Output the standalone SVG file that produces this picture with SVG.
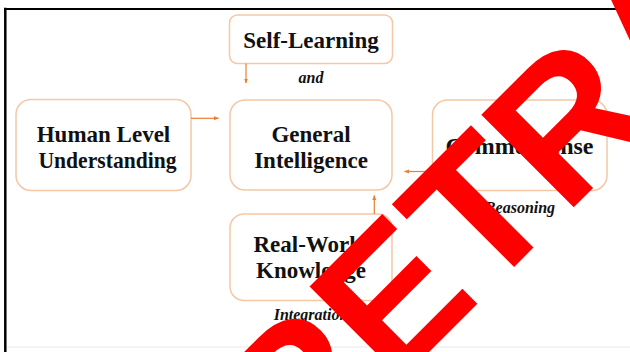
<svg xmlns="http://www.w3.org/2000/svg" width="630" height="352" viewBox="0 0 630 352">
  <defs>
    <style>
      .box { fill: #ffffff; stroke: #F5C7A5; stroke-width: 1.5; }
      .lbl { font-family: "Liberation Serif", "Times New Roman", serif; font-weight: bold; font-size: 23px; fill: #111111; text-anchor: middle; }
      .ital { font-family: "Liberation Serif", "Times New Roman", serif; font-weight: bold; font-style: italic; font-size: 16px; fill: #111111; text-anchor: middle; }
      .conn { stroke: #ED7D31; stroke-width: 1.2; fill: none; marker-end: url(#arrow); }
      .stamp { font-family: "Liberation Sans", Arial, sans-serif; font-weight: bold; font-size: 190px; fill: #FF0000; }
    </style>
    <marker id="arrow" viewBox="0 0 10 10" refX="9" refY="5" markerWidth="5" markerHeight="5" orient="auto" markerUnits="userSpaceOnUse">
      <path d="M0,1 L10,5 L0,9 Z" fill="#ED7D31"/>
    </marker>
  </defs>

  <rect x="0" y="0" width="630" height="352" fill="#ffffff"/>
  <!-- frame -->
  <line x1="5.3" y1="7.8" x2="5.3" y2="352" stroke="#000000" stroke-width="2.5"/>
  <line x1="4" y1="9" x2="630" y2="9" stroke="#000000" stroke-width="2.2"/>
  <line x1="7" y1="347" x2="630" y2="347" stroke="#E8E8E8" stroke-width="1"/>

  <g id="self-learning">
    <rect class="box" x="229.5" y="15" width="163" height="48.5" rx="8"/>
    <text class="lbl" x="311" y="47.5">Self-Learning</text>
  </g>

  <g id="human-level">
    <rect class="box" x="16" y="99.5" width="175" height="91" rx="15"/>
    <text class="lbl" x="103.5" y="141.5">Human Level</text>
    <text class="lbl" x="107.5" y="168" textLength="138" lengthAdjust="spacingAndGlyphs">Understanding</text>
  </g>

  <g id="general-intelligence">
    <rect class="box" x="230" y="100" width="162" height="90" rx="15"/>
    <text class="lbl" x="311" y="141.5">General</text>
    <text class="lbl" x="311" y="168">Intelligence</text>
  </g>

  <g id="commonsense">
    <rect class="box" x="432.5" y="100" width="174.5" height="90.5" rx="15"/>
    <text class="lbl" x="519.5" y="153.5" style="font-size:24px">Commonsense</text>
  </g>

  <g id="real-world">
    <rect class="box" x="230" y="214" width="162" height="86.5" rx="14"/>
    <text class="lbl" x="311" y="252">Real-World</text>
    <text class="lbl" x="311" y="278">Knowledge</text>
  </g>

  <g id="labels">
    <text class="ital" x="311" y="83">and</text>
    <text class="ital" x="520" y="212.5">Reasoning</text>
    <text class="ital" x="311" y="319.5">Integration</text>
  </g>

  <g id="connectors">
    <path class="conn" d="M246,63.5 V83"/>
    <path class="conn" d="M191,118.3 H218.5"/>
    <path class="conn" d="M432.5,171.5 H404.5"/>
    <path class="conn" d="M374.3,214 V195.5"/>
  </g>

  <text class="stamp" transform="translate(296,485) rotate(-45)">RETRACTED</text>
</svg>
